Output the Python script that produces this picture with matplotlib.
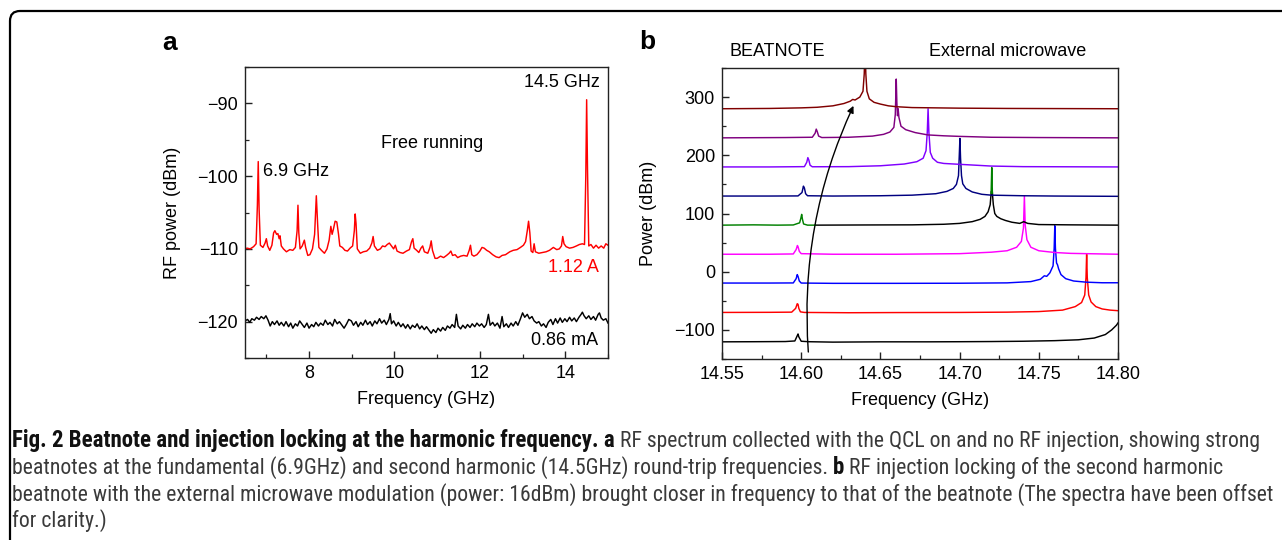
import matplotlib
matplotlib.use('Agg')
import matplotlib.pyplot as plt
import numpy as np
from matplotlib import font_manager
from matplotlib.font_manager import FontProperties
from matplotlib.ticker import MultipleLocator, FormatStrFormatter
from matplotlib.path import Path
from matplotlib.patches import PathPatch

# ---------------- data: panel a ----------------
red_a_f = [6.50, 6.55, 6.62, 6.70, 6.76, 6.79, 6.81, 6.83, 6.86, 6.92, 6.97, 7.00, 7.03, 7.08,
           7.13, 7.17, 7.20, 7.24, 7.27, 7.30, 7.32, 7.35, 7.40, 7.47, 7.55, 7.62, 7.68, 7.72,
           7.74, 7.76, 7.79, 7.84, 7.89, 7.92, 7.97, 8.02, 8.08, 8.13, 8.17, 8.20, 8.23, 8.29,
           8.36, 8.42, 8.47, 8.51, 8.54, 8.57, 8.61, 8.65, 8.69, 8.72, 8.78, 8.84, 8.90, 8.96,
           9.02, 9.06, 9.08, 9.10, 9.13, 9.20, 9.27, 9.35, 9.42, 9.47, 9.50, 9.53, 9.60, 9.67,
           9.72, 9.78, 9.83, 9.88, 9.93, 9.98, 10.02, 10.06, 10.13, 10.20, 10.28, 10.35, 10.40,
           10.43, 10.46, 10.52, 10.57, 10.62, 10.66, 10.70, 10.78, 10.83, 10.86, 10.89, 10.95,
           11.00, 11.08, 11.15, 11.22, 11.28, 11.32, 11.36, 11.42, 11.48, 11.55, 11.62, 11.70,
           11.75, 11.78, 11.81, 11.86, 11.93, 12.00, 12.05, 12.10, 12.16, 12.22, 12.30, 12.38,
           12.45, 12.52, 12.60, 12.70, 12.78, 12.87, 12.95, 13.02, 13.07, 13.11, 13.14, 13.17,
           13.20, 13.24, 13.27, 13.30, 13.38, 13.47, 13.55, 13.63, 13.72, 13.80, 13.86, 13.91,
           13.94, 13.97, 14.02, 14.10, 14.18, 14.26, 14.33, 14.40, 14.45, 14.48, 14.50, 14.52,
           14.55, 14.60, 14.66, 14.72, 14.78, 14.84, 14.90, 14.95, 15.00]
red_a_db = [-110.0, -109.9, -110.0, -109.7, -109.3, -104.0, -98.0, -104.5, -109.5, -109.8, -109.2,
            -108.6, -109.6, -110.2, -109.5, -107.8, -107.5, -108.0, -107.9, -108.6, -108.2, -109.6,
            -110.0, -110.4, -110.1, -110.2, -109.8, -107.5, -104.0, -107.8, -110.0, -109.6, -108.8,
            -109.8, -110.9, -110.8, -110.0, -108.0, -102.7, -106.5, -109.8, -110.2, -110.6, -110.0,
            -108.8, -106.9, -108.0, -107.3, -106.2, -106.3, -108.0, -109.6, -109.8, -110.2, -110.3,
            -109.9, -109.6, -107.5, -105.2, -106.5, -110.0, -110.6, -110.4, -110.3, -109.9, -109.2,
            -108.3, -109.6, -110.2, -110.0, -109.6, -109.7, -109.4, -109.2, -109.6, -110.0, -109.5,
            -110.3, -110.5, -110.6, -110.3, -110.1, -109.0, -108.6, -109.9, -110.2, -110.5, -109.9,
            -109.6, -110.4, -110.6, -109.8, -108.9, -110.2, -111.3, -111.3, -111.0, -111.2, -110.9,
            -110.6, -110.3, -110.9, -110.8, -111.2, -111.0, -110.9, -111.0, -110.2, -109.5, -110.8,
            -111.0, -110.8, -110.3, -109.8, -109.9, -110.2, -110.4, -110.8, -111.1, -111.2, -110.9,
            -110.8, -110.4, -110.2, -110.1, -109.8, -109.5, -109.0, -107.5, -106.2, -107.8, -110.3,
            -110.5, -109.3, -110.4, -110.6, -110.5, -110.4, -110.2, -109.8, -110.1, -110.0, -109.6,
            -108.3, -109.3, -109.7, -109.9, -109.8, -109.6, -109.4, -109.3, -109.4, -100.0, -89.5,
            -99.0, -109.6, -109.4, -109.9, -109.5, -109.9, -109.6, -109.9, -109.3, -109.5]

blk_a_f = [6.50, 6.56, 6.61, 6.66, 6.72, 6.77, 6.83, 6.88, 6.94, 6.99, 7.04, 7.09, 7.14, 7.19,
           7.25, 7.30, 7.35, 7.41, 7.46, 7.52, 7.57, 7.62, 7.68, 7.73, 7.78, 7.84, 7.89, 7.95,
           8.00, 8.06, 8.11, 8.16, 8.22, 8.27, 8.33, 8.38, 8.44, 8.49, 8.55, 8.60, 8.66, 8.71,
           8.77, 8.82, 8.88, 8.93, 8.99, 9.04, 9.10, 9.15, 9.21, 9.26, 9.32, 9.37, 9.43, 9.48,
           9.54, 9.59, 9.65, 9.70, 9.76, 9.81, 9.87, 9.90, 9.93, 9.98, 10.04, 10.09, 10.15,
           10.20, 10.26, 10.31, 10.37, 10.42, 10.48, 10.53, 10.59, 10.64, 10.70, 10.75, 10.81,
           10.86, 10.91, 10.97, 11.02, 11.08, 11.13, 11.19, 11.24, 11.30, 11.35, 11.41, 11.45,
           11.49, 11.55, 11.60, 11.66, 11.71, 11.77, 11.82, 11.88, 11.93, 11.99, 12.04, 12.10,
           12.15, 12.20, 12.24, 12.30, 12.35, 12.41, 12.47, 12.52, 12.56, 12.62, 12.67, 12.73,
           12.78, 12.84, 12.89, 12.95, 13.00, 13.05, 13.11, 13.16, 13.22, 13.27, 13.33, 13.38,
           13.44, 13.49, 13.55, 13.60, 13.66, 13.71, 13.77, 13.82, 13.88, 13.93, 13.99, 14.04,
           14.10, 14.15, 14.21, 14.26, 14.32, 14.37, 14.40, 14.44, 14.49, 14.55, 14.60, 14.66,
           14.71, 14.77, 14.80, 14.84, 14.89, 14.95, 15.00]
blk_a_db = [-119.9, -119.7, -120.1, -119.6, -119.8, -119.4, -119.7, -119.3, -119.6, -119.2, -119.8,
            -120.6, -120.0, -120.4, -119.9, -120.5, -120.1, -120.6, -120.0, -120.7, -120.2, -120.9,
            -120.3, -120.6, -119.9, -120.4, -120.8, -120.2, -120.9, -120.4, -120.7, -120.1, -120.6,
            -120.2, -120.5, -119.8, -120.4, -120.1, -120.6, -119.7, -120.3, -120.0, -120.5, -120.9,
            -120.3, -119.7, -119.9, -120.5, -120.0, -120.7, -120.1, -120.5, -119.8, -120.4, -120.0,
            -120.6, -119.9, -120.3, -119.6, -120.2, -119.8, -120.4, -119.7, -118.9, -120.3, -119.9,
            -120.6, -120.1, -120.7, -120.3, -120.9, -120.4, -121.0, -120.5, -120.8, -120.3, -121.0,
            -120.6, -121.1, -120.7, -121.2, -121.6, -121.1, -121.5, -120.9, -121.3, -120.8, -121.2,
            -120.6, -120.9, -120.4, -120.8, -119.0, -120.6, -121.0, -120.5, -120.9, -120.4, -120.8,
            -120.3, -120.7, -120.2, -120.6, -120.3, -120.8, -120.4, -119.0, -120.5, -120.1, -120.6,
            -120.2, -120.9, -119.3, -120.7, -120.3, -120.8, -120.2, -120.6, -120.0, -120.5, -119.6,
            -118.8, -119.4, -119.0, -119.6, -119.3, -119.9, -120.2, -120.0, -120.6, -120.3, -120.8,
            -120.1, -119.7, -120.4, -119.6, -120.2, -119.5, -120.1, -119.6, -120.0, -119.4, -119.9,
            -119.5, -120.0, -119.4, -119.0, -118.7, -119.2, -119.6, -119.2, -119.7, -119.3, -119.8,
            -119.0, -118.8, -119.5, -119.8, -119.6, -120.2]

# ---------------- data: panel b (offset spectra) ----------------
b0_f = [14.550, 14.570, 14.590, 14.596, 14.5975, 14.598, 14.5985, 14.600, 14.605, 14.620, 14.650,
        14.680, 14.700, 14.720, 14.740, 14.760, 14.775, 14.785, 14.792, 14.796, 14.799, 14.800]
b0_p = [-120.5, -120.3, -120.0, -119.0, -110.0, -107.0, -112.0, -119.5, -120.3, -121.0, -120.5,
        -120.5, -120.3, -120.0, -119.5, -118.5, -117.0, -114.0, -108.0, -100.0, -92.0, -88.0]

b1_f = [14.550, 14.580, 14.594, 14.5965, 14.5975, 14.598, 14.5985, 14.5995, 14.602, 14.630, 14.660,
        14.700, 14.730, 14.750, 14.765, 14.773, 14.777, 14.779, 14.7798, 14.7802, 14.7806, 14.7815,
        14.783, 14.786, 14.790, 14.795, 14.800]
b1_p = [-70.0, -69.8, -69.5, -63.0, -55.0, -56.0, -63.0, -69.0, -70.0, -70.5, -70.2, -70.0, -69.5,
        -68.5, -66.0, -60.0, -53.0, -40.0, -10.0, 30.0, -10.0, -40.0, -52.0, -60.0, -64.0, -66.0, -67.0]

b2_f = [14.550, 14.580, 14.595, 14.5968, 14.5975, 14.598, 14.5988, 14.600, 14.620, 14.660, 14.700,
        14.730, 14.745, 14.751, 14.7535, 14.755, 14.757, 14.759, 14.7597, 14.7601, 14.7605, 14.7612,
        14.7618, 14.7625, 14.764, 14.767, 14.772, 14.780, 14.790, 14.800]
b2_p = [-19.5, -19.5, -19.3, -12.0, -5.0, -8.0, -16.0, -19.5, -20.0, -20.0, -19.8, -19.2, -17.0,
        -13.0, -7.0, -8.0, -2.0, 10.0, 40.0, 79.0, 40.0, 15.0, 12.0, 5.0, -5.0, -12.0, -16.0, -18.0,
        -19.0, -19.0]

b3_f = [14.550, 14.580, 14.595, 14.5968, 14.5976, 14.598, 14.5988, 14.600, 14.620, 14.660, 14.700,
        14.720, 14.730, 14.736, 14.739, 14.7403, 14.7409, 14.7414, 14.7425, 14.745, 14.750, 14.760,
        14.770, 14.780, 14.790, 14.800]
b3_p = [30.0, 30.0, 30.5, 38.0, 45.0, 43.0, 35.0, 31.0, 30.0, 30.0, 31.0, 33.5, 36.0, 42.0, 52.0,
        75.0, 130.0, 80.0, 55.0, 42.0, 36.0, 33.0, 31.5, 31.0, 30.5, 30.0]

b4g_f = [14.550, 14.570, 14.585, 14.595, 14.5990, 14.5998, 14.6003, 14.6008, 14.6015, 14.604, 14.609]
b4g_p = [80.0, 80.5, 80.0, 80.3, 84.0, 92.0, 98.5, 90.0, 82.0, 80.0, 80.0]
b4s_f = [14.7199, 14.7203, 14.7207]
b4s_p = [135.0, 179.0, 135.0]
b4k_f = [14.609, 14.640, 14.670, 14.690, 14.700, 14.708, 14.713, 14.716, 14.718, 14.7193, 14.7200,
         14.7206, 14.7213, 14.7222, 14.7235, 14.726, 14.729, 14.733, 14.738, 14.7405, 14.743,
         14.750, 14.770, 14.800]
b4k_p = [80.0, 80.3, 80.5, 81.5, 83.0, 86.0, 90.0, 95.0, 103.0, 115.0, 138.0, 138.0, 115.0, 100.0,
         95.0, 91.0, 88.0, 85.0, 83.0, 86.0, 83.0, 81.0, 80.5, 80.0]

b5_f = [14.550, 14.580, 14.598, 14.6005, 14.6014, 14.6020, 14.6028, 14.604, 14.620, 14.650, 14.670,
        14.685, 14.692, 14.696, 14.698, 14.6993, 14.6998, 14.7002, 14.7006, 14.7012, 14.702, 14.704,
        14.708, 14.714, 14.720, 14.740, 14.760, 14.800]
b5_p = [130.0, 130.0, 130.2, 136.0, 147.0, 144.0, 134.0, 130.5, 130.0, 130.5, 131.5, 134.0, 138.0,
        143.0, 150.0, 165.0, 200.0, 229.0, 195.0, 165.0, 151.0, 143.0, 137.0, 133.0, 131.5, 130.5,
        130.0, 129.5]

b6_f = [14.550, 14.580, 14.602, 14.6035, 14.6042, 14.6048, 14.6056, 14.607, 14.630, 14.650, 14.665,
        14.673, 14.677, 14.6788, 14.6796, 14.6801, 14.6806, 14.6815, 14.683, 14.686, 14.690, 14.700,
        14.710, 14.720, 14.740, 14.800]
b6_p = [180.0, 180.0, 180.5, 188.0, 196.0, 192.0, 183.0, 180.3, 180.5, 182.0, 185.0, 189.0, 195.0,
        208.0, 240.0, 280.0, 240.0, 205.0, 195.0, 188.0, 186.0, 184.5, 183.0, 181.5, 180.5, 180.0]

b7_f = [14.550, 14.590, 14.607, 14.6088, 14.6095, 14.6101, 14.611, 14.613, 14.630, 14.645, 14.652,
        14.656, 14.6585, 14.6594, 14.6600, 14.6604, 14.6608, 14.6612, 14.6617, 14.663, 14.666,
        14.672, 14.680, 14.690, 14.700, 14.720, 14.750, 14.800]
b7_p = [230.0, 230.5, 231.0, 238.0, 245.0, 241.0, 233.0, 230.5, 231.0, 233.0, 236.0, 240.0, 248.0,
        270.0, 331.0, 290.0, 268.0, 280.0, 265.0, 250.0, 244.0, 239.0, 235.0, 233.5, 232.5, 231.0,
        230.5, 230.0]

b8_f = [14.550, 14.580, 14.600, 14.610, 14.620, 14.627, 14.631, 14.6325, 14.634, 14.637, 14.639,
        14.6398, 14.6403, 14.6408, 14.6415, 14.643, 14.646, 14.650, 14.655, 14.660, 14.670, 14.700,
        14.730, 14.800]
b8_p = [280.0, 280.5, 281.5, 282.5, 285.0, 289.0, 293.0, 296.0, 295.0, 300.0, 310.0, 340.0, 390.0,
        340.0, 310.0, 297.0, 291.0, 288.0, 285.0, 283.5, 282.0, 281.0, 280.5, 280.0]

traces_b = [
    (b0_f, b0_p, '#000000'),
    (b1_f, b1_p, '#ff0000'),
    (b2_f, b2_p, '#0000ff'),
    (b3_f, b3_p, '#ff00ff'),
    (b4k_f, b4k_p, '#000000'),
    (b4g_f, b4g_p, '#008000'),
    (b4s_f, b4s_p, '#008000'),
    (b5_f, b5_p, '#000080'),
    (b6_f, b6_p, '#8000ff'),
    (b7_f, b7_p, '#800080'),
    (b8_f, b8_p, '#800000'),
]

# ---------------- fonts ----------------
avail = {f.name for f in font_manager.fontManager.ttflist}
CHART_FONT = 'Liberation Sans' if 'Liberation Sans' in avail else 'DejaVu Sans'
plt.rcParams['font.family'] = [CHART_FONT, 'DejaVu Sans']
plt.rcParams['axes.unicode_minus'] = True


def _num_weight(w):
    if isinstance(w, (int, float)):
        return int(w)
    return font_manager.weight_dict.get(str(w), 400)


def _is_condensed(fe):
    st = fe.stretch
    if isinstance(st, (int, float)):
        if st < 500:
            return True
    elif str(st) in ('ultra-condensed', 'extra-condensed', 'condensed', 'semi-condensed'):
        return True
    low = (fe.name + ' ' + fe.fname).lower()
    return ('narrow' in low) or ('condensed' in low) or ('cond' in fe.fname.lower())


PREF = ['liberation sans narrow', 'roboto condensed', 'open sans condensed', 'noto sans',
        'open sans', 'dejavu sans', 'roboto', 'lato']


def find_cond(target_w):
    best = None
    for fe in font_manager.fontManager.ttflist:
        if fe.style != 'normal' or not _is_condensed(fe):
            continue
        if 'mono' in fe.name.lower() or 'serif' in fe.name.lower():
            continue
        low = fe.name.lower()
        pref = len(PREF)
        for i, p in enumerate(PREF):
            if low.startswith(p):
                pref = i
                break
        score = (abs(_num_weight(fe.weight) - target_w), pref)
        if best is None or score < best[0]:
            best = (score, fe.fname)
    return best[1] if best else None


reg_path = find_cond(400)
bold_path = find_cond(700)
if reg_path and bold_path:
    CAP_REG = dict(fname=reg_path)
    CAP_BOLD = dict(fname=bold_path)
else:
    CAP_REG = dict(family=CHART_FONT, weight='normal')
    CAP_BOLD = dict(family=CHART_FONT, weight='bold')

FS = 13
SPINE = '#222222'

fig = plt.figure(figsize=(12.82, 5.40), dpi=100)
fig.patch.set_facecolor('white')


def style_axes(ax):
    for s in ax.spines.values():
        s.set_linewidth(1.0)
        s.set_color(SPINE)
    ax.tick_params(which='both', direction='in', top=False, right=False,
                   labelsize=FS, color=SPINE)
    ax.tick_params(which='major', length=5, width=1.0, pad=5)
    ax.tick_params(which='minor', length=3, width=0.9)


# ---------------- panel a ----------------
axa = fig.add_axes([245 / 1282, (540 - 358) / 540, 363 / 1282, 291 / 540])
axa.plot(blk_a_f, blk_a_db, color='black', lw=1.05)
axa.plot(red_a_f, red_a_db, color='#ff0000', lw=1.05)
axa.set_xlim(6.5, 15.0)
axa.set_ylim(-125, -85)
axa.xaxis.set_major_locator(MultipleLocator(2))
axa.xaxis.set_minor_locator(MultipleLocator(1))
axa.yaxis.set_major_locator(MultipleLocator(10))
axa.yaxis.set_minor_locator(MultipleLocator(5))
style_axes(axa)
axa.set_xlabel('Frequency (GHz)', fontsize=FS)
axa.set_ylabel('RF power (dBm)', fontsize=FS)
axa.xaxis.set_label_coords(0.5, -0.115)
axa.yaxis.set_label_coords(-0.176, 0.5)
axa.text(14.80, -87.1, '14.5 GHz', fontsize=FS, ha='right', va='center')
axa.text(6.92, -99.3, '6.9 GHz', fontsize=FS, ha='left', va='center')
axa.text(9.69, -95.5, 'Free running', fontsize=FS, ha='left', va='center')
axa.text(14.78, -112.6, '1.12 A', fontsize=FS, ha='right', va='center', color='#ff0000')
axa.text(14.78, -122.6, '0.86 mA', fontsize=FS, ha='right', va='center')

# ---------------- panel b ----------------
axb = fig.add_axes([722 / 1282, (540 - 359) / 540, 396 / 1282, 291 / 540])
for f, p, c in traces_b:
    axb.plot(f, p, color=c, lw=1.05)
axb.set_xlim(14.55, 14.80)
axb.set_ylim(-150, 350)
axb.xaxis.set_major_locator(MultipleLocator(0.05))
axb.xaxis.set_minor_locator(MultipleLocator(0.025))
axb.xaxis.set_major_formatter(FormatStrFormatter('%.2f'))
axb.yaxis.set_major_locator(MultipleLocator(100))
axb.yaxis.set_minor_locator(MultipleLocator(50))
style_axes(axb)
axb.set_xlabel('Frequency (GHz)', fontsize=FS)
axb.set_ylabel('Power (dBm)', fontsize=FS)
axb.xaxis.set_label_coords(0.5, -0.115)
axb.yaxis.set_label_coords(-0.164, 0.5)
axb.text(0.02, 1.055, 'BEATNOTE', fontsize=FS, ha='left', va='center', transform=axb.transAxes)
axb.text(0.523, 1.055, 'External microwave', fontsize=FS, ha='left', va='center',
         transform=axb.transAxes)
axb.annotate('', xy=(14.633, 285), xytext=(14.6045, -138),
             arrowprops=dict(arrowstyle='-|>', color='black', lw=1.0, mutation_scale=10,
                             connectionstyle='arc3,rad=-0.13', shrinkA=0, shrinkB=0))

# ---------------- overlay (frame, panel letters, caption) ----------------
bg = fig.add_axes([0, 0, 1, 1])
bg.set_xlim(0, 1282)
bg.set_ylim(540, 0)
bg.axis('off')
verts = [(10, 560), (10, 21), (10, 11), (20, 11), (1300, 11)]
codes = [Path.MOVETO, Path.LINETO, Path.CURVE3, Path.CURVE3, Path.LINETO]
bg.add_patch(PathPatch(Path(verts, codes), facecolor='none', edgecolor='black', lw=1.6,
                       clip_on=False))
bg.text(170, 43, 'a', fontsize=19, fontweight='bold', ha='center', va='center')
bg.text(647, 42, 'b', fontsize=19, fontweight='bold', ha='center', va='center')

fig.canvas.draw()
rend = fig.canvas.get_renderer()

BOLD_C = '#111111'
REG_C = '#3a3a3a'

BOLD1 = 'Fig. 2 Beatnote and injection locking at the harmonic frequency. a'
line1 = [(BOLD1, 'bold'),
         (' RF spectrum collected with the QCL on and no RF injection, showing strong', 'normal')]
line2 = [('beatnotes at the fundamental (6.9GHz) and second harmonic (14.5GHz) round-trip frequencies. ', 'normal'),
         ('b', 'bold'),
         (' RF injection locking of the second harmonic', 'normal')]
LINE3 = 'beatnote with the external microwave modulation (power: 16dBm) brought closer in frequency to that of the beatnote (The spectra have been offset'
line3 = [(LINE3, 'normal')]
line4 = [('for clarity.)', 'normal')]


def seg_width(s, weight, size):
    d = CAP_BOLD if weight == 'bold' else CAP_REG
    t = bg.text(0, 0, s, fontproperties=FontProperties(size=size, **d))
    w = t.get_window_extent(renderer=rend).width
    t.remove()
    return w


def fit_size(s, weight, target):
    size = 10.0
    for _ in range(4):
        size = size * target / seg_width(s, weight, size)
    return size


# regular size: the all-regular third line spans x = 12 .. ~1275
reg_size = fit_size(LINE3, 'normal', 1275 - 12)
# bold size: the bold lead of line 1 spans x = 12 .. 615
bold_size = fit_size(BOLD1, 'bold', 615 - 12)
bold_size = min(max(bold_size, reg_size * 0.9), reg_size * 1.15)

baselines = [447, 474, 501, 527]
for line, yb in zip([line1, line2, line3, line4], baselines):
    x = 12
    for s, w in line:
        size = bold_size if w == 'bold' else reg_size
        d = CAP_BOLD if w == 'bold' else CAP_REG
        bg.text(x, yb, s, fontproperties=FontProperties(size=size, **d),
                ha='left', va='baseline', color=BOLD_C if w == 'bold' else REG_C)
        x += seg_width(s, w, size)

fig.savefig('out.png', dpi=100)
